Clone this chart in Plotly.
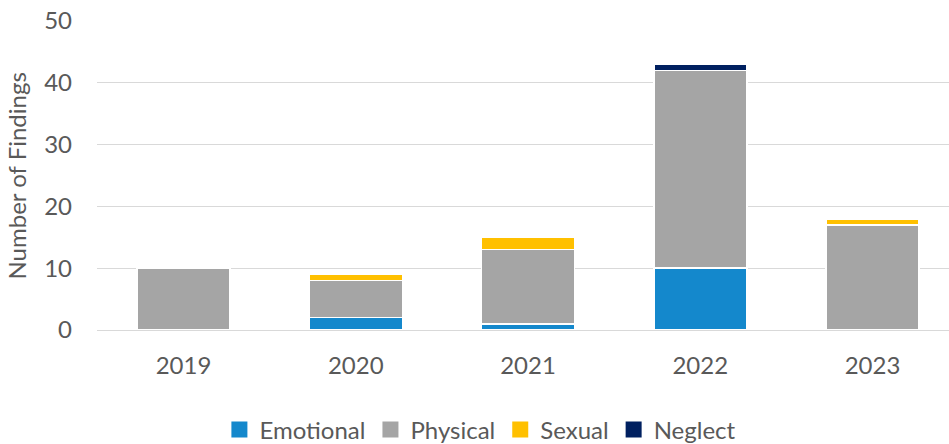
import plotly.graph_objects as go

years = ["2019", "2020", "2021", "2022", "2023"]
emotional = [0, 2, 1, 10, 0]
physical = [10, 6, 12, 32, 17]
sexual = [0, 1, 2, 0, 1]
neglect = [0, 0, 0, 1, 0]

series = [
    ("Emotional", emotional, "#1488CC"),
    ("Physical", physical, "#A5A5A5"),
    ("Sexual", sexual, "#FFC000"),
    ("Neglect", neglect, "#002060"),
]

FONT = "Lato, 'Open Sans', sans-serif"
GRAY = "#595959"
FS = 24

fig = go.Figure()
for name, vals, color in series:
    fig.add_trace(go.Bar(
        name=name, x=years, y=vals, showlegend=False,
        marker=dict(color=color, line=dict(color="white", width=1.5)),
        width=0.54,
    ))
# square legend keys
for name, vals, color in series:
    fig.add_trace(go.Scatter(
        name=name, x=[None], y=[None], mode="markers",
        marker=dict(symbol="square", size=17, color=color),
    ))

fig.update_layout(
    barmode="stack",
    width=949, height=444,
    margin=dict(l=97, r=0, t=21, b=114, autoexpand=False),
    paper_bgcolor="white", plot_bgcolor="white",
    font=dict(family=FONT, size=FS, color=GRAY),
    showlegend=True,
    legend=dict(orientation="h", x=0.45, xanchor="center",
                yref="container", y=0.032, yanchor="middle",
                font=dict(size=FS, color=GRAY), itemsizing="trace",
                traceorder="normal", itemwidth=30),
    xaxis=dict(type="category", range=[-0.502, 4.444], showgrid=False,
               showline=True, linecolor="#D9D9D9", linewidth=1,
               ticks="", tickfont=dict(size=FS, color=GRAY), ticklabelstandoff=14),
    yaxis=dict(range=[0, 50], dtick=10, showgrid=True, gridcolor="#D9D9D9",
               gridwidth=1, zeroline=False, showline=False,
               tickfont=dict(size=FS, color=GRAY), ticklabelstandoff=24),
    annotations=[dict(text="Number of Findings", textangle=-90,
                      xref="paper", x=-97 / 852 + 16 / 852, xanchor="center",
                      yref="paper", y=0.5, yanchor="middle", showarrow=False,
                      font=dict(size=FS, color=GRAY))],
)

fig.write_html("out.html")
